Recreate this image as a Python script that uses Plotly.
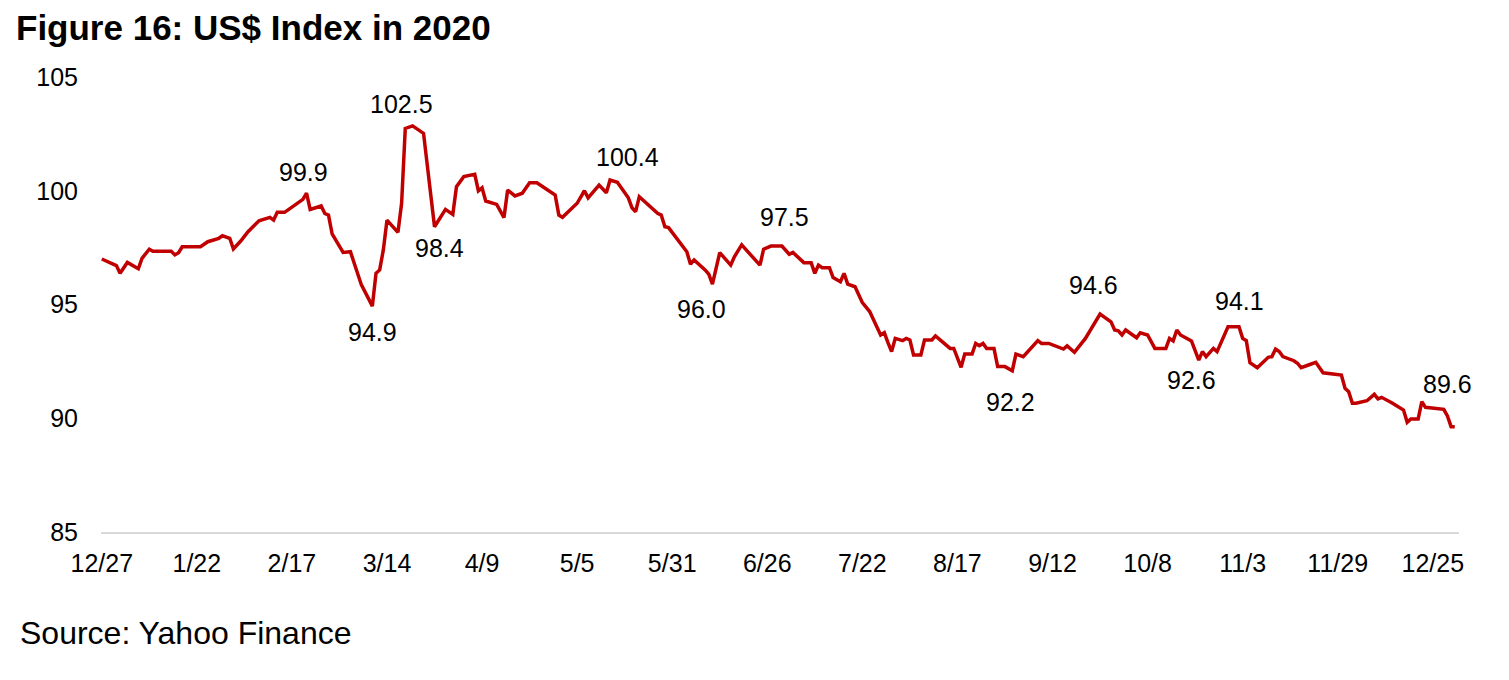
import pandas as pd
import plotly.graph_objects as go

# ---- data ----
start_date = "2019-12-27"
day_offsets = [
    0, 4, 5, 7, 10, 11, 13, 14, 19, 20, 21, 22, 27, 29, 32, 33, 35, 36, 38, 40,
    43, 46, 47, 48, 50, 54, 55, 56, 57, 60, 61, 62, 63, 66, 68, 71, 74, 75, 76, 77,
    78, 81, 82, 83, 85, 88, 89, 91, 94, 96, 97, 99, 102, 103, 104, 105, 108, 110, 111, 113,
    115, 117, 119, 123, 124, 125, 126, 130, 132, 133, 136, 138, 139, 141, 144, 145, 146, 147, 152, 153,
    154, 155, 160, 161, 162, 165, 166, 167, 168, 169, 172, 173, 175, 180, 181, 183, 186, 188, 189, 192,
    194, 195, 196, 197, 199, 200, 202, 203, 204, 206, 208, 210, 213, 214, 215, 216, 217, 219, 220, 221,
    222, 224, 225, 227, 228, 231, 232, 233, 235, 236, 238, 239, 240, 241, 242, 244, 245, 247, 249, 250,
    251, 252, 256, 257, 259, 263, 264, 266, 269, 271, 272, 273, 276, 277, 278, 279, 280, 283, 284, 286,
    288, 291, 292, 293, 294, 295, 298, 300, 301, 302, 304, 305, 308, 311, 312, 313, 314, 316, 319, 320,
    321, 322, 323, 326, 327, 328, 330, 332, 334, 339, 340, 341, 342, 343, 346, 348, 349, 350, 353, 355,
    356, 357, 358, 360, 361, 362, 367, 368, 369, 370,
]
usd_index = [
    97.00, 96.71, 96.37, 96.85, 96.57, 97.03, 97.43, 97.34, 97.34, 97.18, 97.28, 97.54, 97.54, 97.76, 97.91, 98.02, 97.91, 97.44, 97.79, 98.20,
    98.68, 98.83, 98.71, 99.05, 99.05, 99.49, 99.62, 99.89, 99.18, 99.33, 99.00, 98.93, 98.10, 97.29, 97.32, 95.86, 94.93, 96.37, 96.52, 97.40,
    98.71, 98.17, 99.45, 102.74, 102.85, 102.52, 101.06, 98.42, 99.18, 98.96, 100.18, 100.62, 100.72, 100.00, 100.13, 99.55, 99.40, 98.82, 100.03, 99.77,
    99.89, 100.35, 100.35, 99.91, 99.81, 98.93, 98.83, 99.45, 100.00, 99.69, 100.25, 99.91, 100.47, 100.37, 99.69, 99.25, 99.08, 99.74, 99.01, 98.93,
    98.42, 98.38, 97.32, 96.77, 96.96, 96.52, 96.33, 95.90, 96.66, 97.28, 96.73, 97.10, 97.62, 96.73, 97.43, 97.57, 97.57, 97.21, 97.29, 96.84,
    96.84, 96.37, 96.73, 96.62, 96.62, 96.18, 96.00, 96.37, 95.90, 95.78, 95.08, 94.69, 93.66, 93.76, 93.32, 92.93, 93.51, 93.41, 93.51, 93.44,
    92.78, 92.78, 93.44, 93.44, 93.62, 93.22, 93.07, 93.07, 92.24, 92.82, 92.82, 93.29, 93.19, 93.29, 93.07, 93.07, 92.27, 92.27, 92.09, 92.82,
    92.78, 92.71, 93.41, 93.29, 93.29, 93.04, 93.18, 92.90, 93.51, 94.02, 94.32, 94.58, 94.24, 93.88, 93.84, 93.66, 93.88, 93.54, 93.76, 93.66,
    93.07, 93.07, 93.51, 93.40, 93.88, 93.66, 93.40, 92.56, 92.93, 92.71, 93.07, 92.93, 94.02, 94.02, 93.51, 93.41, 92.44, 92.22, 92.68, 92.71,
    93.04, 92.93, 92.71, 92.53, 92.42, 92.22, 92.34, 92.46, 92.00, 91.90, 91.32, 91.17, 90.66, 90.66, 90.77, 91.05, 90.85, 90.92, 90.66, 90.44,
    90.36, 89.82, 89.97, 89.97, 90.73, 90.48, 90.39, 90.10, 89.63, 89.63,
]

tick_labels = ["12/27", "1/22", "2/17", "3/14", "4/9", "5/5", "5/31", "6/26",
               "7/22", "8/17", "9/12", "10/8", "11/3", "11/29", "12/25"]
tick_step_days = 26
y_ticks = [85, 90, 95, 100, 105]

# data labels: day offset of the labelled point, text
label_days = [56, 85, 74, 91, 139, 167, 186, 249, 273, 300, 311, 370]
label_texts = ["99.9", "102.5", "94.9", "98.4", "100.4", "96.0", "97.5",
               "92.2", "94.6", "92.6", "94.1", "89.6"]
# label placement offsets in pixels (x, y-up)
label_shift = [(-3, 21), (-11, 22), (0, -26), (5, -21), (17, 23), (-11, -25),
               (3, 29), (-2, -31), (-7, 29), (-7, -20), (1, 26), (-7, 43)]

# ---- build ----
t0 = pd.Timestamp(start_date)
dates = [t0 + pd.Timedelta(days=d) for d in day_offsets]
tick_dates = [t0 + pd.Timedelta(days=tick_step_days * i) for i in range(len(tick_labels))]

FONT = "Liberation Sans, Arial, sans-serif"
RED = "#C00000"

W, H = 1501, 672  # page body adds an 8px margin

fig = go.Figure()
fig.add_trace(go.Scatter(
    x=dates, y=usd_index, mode="lines",
    line=dict(color=RED, width=3.5),
    hoverinfo="x+y", showlegend=False,
))

val_by_day = dict(zip(day_offsets, usd_index))
for d, txt, (dx, dy) in zip(label_days, label_texts, label_shift):
    fig.add_annotation(
        x=t0 + pd.Timedelta(days=d), y=val_by_day[d], text=txt,
        showarrow=False, xshift=dx, yshift=dy,
        font=dict(family=FONT, size=25, color="#000000"),
        xanchor="center", yanchor="middle",
    )

fig.add_annotation(
    xref="paper", yref="paper", x=-0.0611, y=-0.222,
    text="Source: Yahoo Finance", showarrow=False,
    xanchor="left", yanchor="middle",
    font=dict(family=FONT, size=32, color="#000000"),
)

fig.update_layout(
    width=W, height=H,
    paper_bgcolor="white", plot_bgcolor="white",
    margin=dict(l=93, r=50, t=69, b=148),
    title=dict(
        text="<b>Figure 16: US$ Index in 2020</b>",
        x=8 / W, xanchor="left", xref="container",
        y=1 - 20 / H, yanchor="middle", yref="container",
        font=dict(family=FONT, size=35, color="#000000"),
    ),
    xaxis=dict(
        range=[t0 - pd.Timedelta(hours=5), t0 + pd.Timedelta(hours=int(371.2 * 24))],
        tickvals=tick_dates, ticktext=tick_labels,
        showgrid=False, zeroline=False,
        showline=True, linecolor="#d9d9d9", linewidth=2,
        ticks="", tickfont=dict(family=FONT, size=25, color="#000000"),
        ticklabelstandoff=8,
    ),
    yaxis=dict(
        range=[85, 105], tickvals=y_ticks,
        showgrid=False, zeroline=False, showline=False,
        ticks="", tickfont=dict(family=FONT, size=25, color="#000000"),
        ticklabelstandoff=22,
    ),
)

fig.write_html("out.html")
